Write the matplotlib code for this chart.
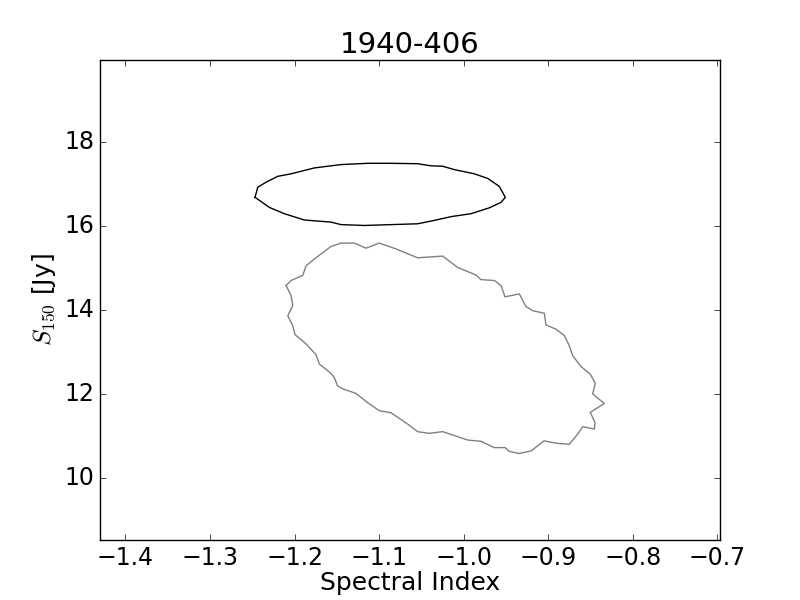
import numpy as np
import matplotlib
matplotlib.use('Agg')
import matplotlib.pyplot as plt

# contour of the 1940-406 fit (black)
black_x = [-1.2467, -1.2435, -1.2337, -1.2199, -1.2041, -1.1766, -1.1450, -1.1135,
           -1.0859, -1.0544, -1.0387, -1.0248, -1.0111, -0.9875, -0.9716, -0.9579,
           -0.9508, -0.9559, -0.9697, -0.9914, -1.0150, -1.0348, -1.0544, -1.0859,
           -1.1175, -1.1450, -1.1569, -1.1884, -1.2121, -1.2298, -1.2467]
black_y = [16.68, 16.92, 17.04, 17.18, 17.24, 17.38, 17.46, 17.49,
           17.49, 17.48, 17.43, 17.42, 17.34, 17.24, 17.13, 16.94,
           16.68, 16.56, 16.43, 16.29, 16.22, 16.13, 16.05, 16.03,
           16.01, 16.03, 16.09, 16.14, 16.29, 16.44, 16.68]

# second contour (grey)
grey_x = [-1.2100, -1.2041, -1.1903, -1.1864, -1.1766, -1.1569, -1.1450, -1.1293,
          -1.1155, -1.0998, -1.0800, -1.0544, -1.0248, -1.0071, -0.9855, -0.9795,
          -0.9638, -0.9559, -0.9512, -0.9343, -0.9264, -0.9184, -0.9047, -0.9027,
          -0.8909, -0.8811, -0.8752, -0.8712, -0.8613, -0.8504, -0.8444, -0.8475,
          -0.8338, -0.8504, -0.8448, -0.8456, -0.8593, -0.8653, -0.8752, -0.8889,
          -0.9051, -0.9204, -0.9346, -0.9461, -0.9512, -0.9638, -0.9795, -0.9953,
          -1.0248, -1.0407, -1.0544, -1.0662, -1.0859, -1.0998, -1.1135, -1.1273,
          -1.1430, -1.1492, -1.1530, -1.1569, -1.1707, -1.1746, -1.1864, -1.1994,
          -1.2021, -1.2080, -1.2021, -1.2041, -1.2100]
grey_y = [14.58, 14.70, 14.82, 15.05, 15.21, 15.51, 15.59, 15.59,
          15.47, 15.59, 15.45, 15.24, 15.28, 15.01, 14.83, 14.72,
          14.70, 14.58, 14.31, 14.38, 14.08, 13.98, 13.92, 13.64,
          13.54, 13.39, 13.15, 12.91, 12.65, 12.47, 12.25, 12.00,
          11.77, 11.56, 11.32, 11.16, 11.22, 11.04, 10.80, 10.82,
          10.88, 10.64, 10.58, 10.63, 10.72, 10.72, 10.87, 10.90,
          11.10, 11.06, 11.10, 11.28, 11.55, 11.60, 11.79, 12.01,
          12.12, 12.19, 12.39, 12.49, 12.71, 12.93, 13.19, 13.41,
          13.62, 13.86, 14.10, 14.34, 14.58]

plt.style.use('classic')
plt.rcParams['figure.facecolor'] = 'white'
plt.rcParams['savefig.facecolor'] = 'white'
plt.rcParams['mathtext.fontset'] = 'cm'

fig = plt.figure(figsize=(8, 6), dpi=100)
ax = fig.add_subplot(111)

ax.plot(grey_x, grey_y, color='gray', lw=1)
ax.plot(black_x, black_y, color='k', lw=1)

ax.set_xlim(-1.43, -0.697)
ax.set_ylim(8.52, 19.95)
ax.set_xticks(np.arange(-1.4, -0.65, 0.1))
ax.set_yticks([10, 12, 14, 16, 18])
ax.tick_params(labelsize=17)

ax.set_xlabel('Spectral Index', fontsize=18, labelpad=1)
ax.set_ylabel(r'$S_{150}$ [Jy]', fontsize=18)
ax.set_title('1940-406', fontsize=21)

fig.savefig('out.png', dpi=100)
